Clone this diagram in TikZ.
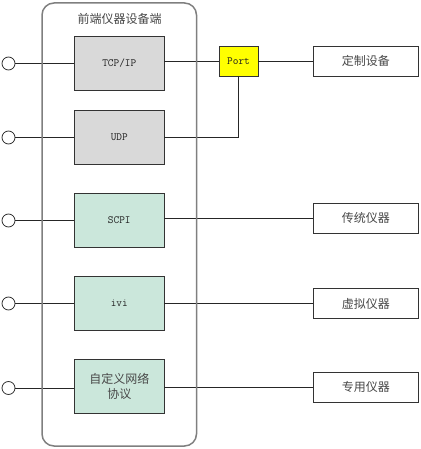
\documentclass[tikz,border=0pt]{standalone}
\usepackage{fontspec}
\newfontfamily\cjk{Noto Sans CJK SC}
\definecolor{boxgray}{HTML}{D9D9D9}
\definecolor{boxgreen}{HTML}{CBE7DB}
\definecolor{portyellow}{HTML}{FFFF00}
\definecolor{framegray}{HTML}{7F7F7F}
\definecolor{txt}{HTML}{202020}
\definecolor{cjktxt}{HTML}{484848}
\tikzset{
  protobox/.style={draw=black!80, line width=0.9pt, minimum width=89.5pt, minimum height=53.5pt, inner sep=0pt, text=txt, font=\ttfamily\fontsize{11}{13}\selectfont, align=center},
  graybox/.style={protobox, fill=boxgray},
  greenbox/.style={protobox, fill=boxgreen},
  devbox/.style={draw=black!80, line width=0.9pt, fill=white, minimum width=105.5pt, minimum height=30pt, inner sep=0pt, text=cjktxt, font=\cjk\fontsize{12}{14}\selectfont},
  portbox/.style={draw=black!80, line width=0.9pt, fill=portyellow, minimum width=39pt, minimum height=30pt, inner sep=0pt, text=txt, font=\ttfamily\fontsize{11}{13}\selectfont},
  endcirc/.style={circle, draw=black!80, line width=0.8pt, fill=white, minimum size=13pt, inner sep=0pt},
  wire/.style={draw=black!85, line width=0.9pt},
  frame/.style={draw=framegray, line width=1.5pt, rounded corners=12pt}
}
\begin{document}
\begin{tikzpicture}[x=1pt,y=-1pt]
\useasboundingbox (0,0) rectangle (420,449);
\node[font=\cjk\fontsize{12}{14}\selectfont, text=cjktxt] (title) at (119.5,19) {前端仪器设备端};
% protocol boxes
\node[graybox] (tcp) at (119.25,63.5) {TCP/IP};
\node[graybox] (udp) at (119.25,137.5) {UDP};
\node[greenbox] (scpi) at (119.25,220.5) {SCPI};
\node[greenbox] (ivi) at (119.25,303.5) {ivi};
\node[greenbox, text=cjktxt, font=\cjk\fontsize{12}{15}\selectfont] (cust) at (119.25,386.5) {自定义网络\\协议};
% left circles
\node[endcirc] (c1) at (8.5,63.5) {};
\node[endcirc] (c2) at (8.5,137.5) {};
\node[endcirc] (c3) at (8.5,220.5) {};
\node[endcirc] (c4) at (8.5,303.5) {};
\node[endcirc] (c5) at (8.5,388) {};
% port and devices
\node[portbox] (port) at (238.5,61) {Port};
\node[devbox] (dev1) at (365.75,61) {定制设备};
\node[devbox] (dev2) at (365.75,218) {传统仪器};
\node[devbox] (dev3) at (365.75,303.5) {虚拟仪器};
\node[devbox] (dev4) at (365.75,387) {专用仪器};
% left wires
\draw[wire] (c1) -- (tcp.west |- c1);
\draw[wire] (c2) -- (udp.west |- c2);
\draw[wire] (c3) -- (scpi.west |- c3);
\draw[wire] (c4) -- (ivi.west |- c4);
\draw[wire] (c5) -- (cust.west |- c5);
% right wires
\draw[wire] (tcp.east |- port) -- (port.west);
\draw[wire] (port.east) -- (dev1.west);
\draw[wire] (udp.east) -| (port.south);
\draw[wire] (scpi.east |- dev2) -- (dev2.west);
\draw[wire] (ivi.east |- dev3) -- (dev3.west);
\draw[wire] (cust.east |- dev4) -- (dev4.west);
% frame drawn over wires
\draw[frame] (42,3) rectangle (196.5,446);
\end{tikzpicture}
\end{document}
